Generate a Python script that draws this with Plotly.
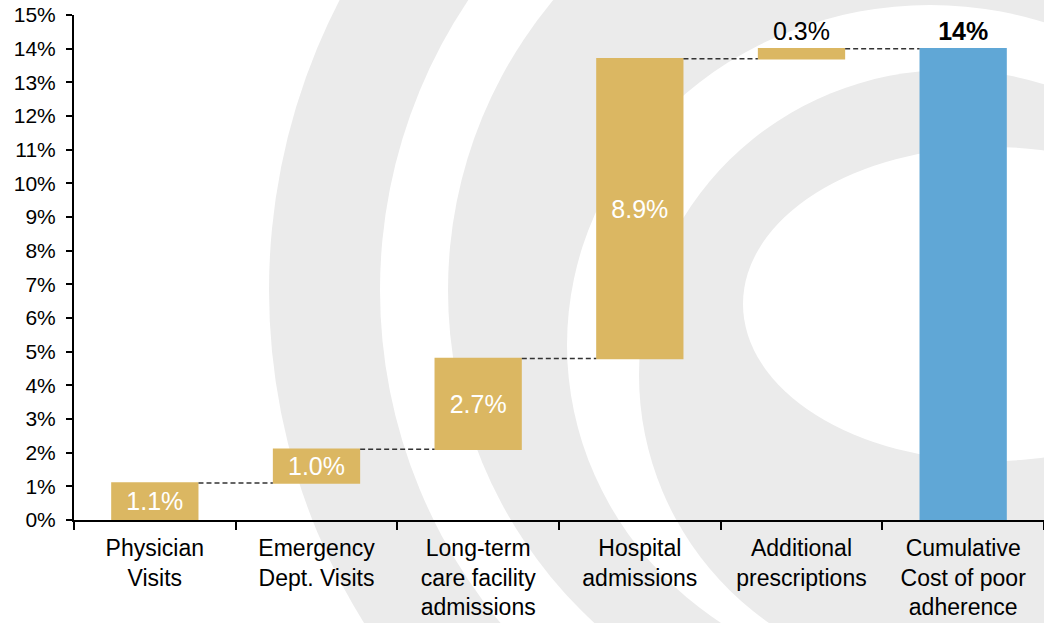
import plotly.graph_objects as go

# ---------------- data ----------------
categories = [
    "Physician<br>Visits",
    "Emergency<br>Dept. Visits",
    "Long-term<br>care facility<br>admissions",
    "Hospital<br>admissions",
    "Additional<br>prescriptions",
    "Cumulative<br>Cost of poor<br>adherence",
]
increments = [1.1, 1.0, 2.7, 8.9, 0.3]
total_value = 14.0
value_labels = ["1.1%", "1.0%", "2.7%", "8.9%", "0.3%", "<b>14%</b>"]
y_ticks = list(range(0, 16))
y_tick_labels = [f"{t}%" for t in y_ticks]

# ---------------- style ----------------
GOLD = "#DBB762"
BLUE = "#60A7D6"
WM_GREY = "#EBEBEB"
FONT = "Arial, Liberation Sans, Arimo, sans-serif"

W_FIG, H_FIG = 1044, 623
L, R, T, B = 74, 0, 15, 103
PW, PH = W_FIG - L - R, H_FIG - T - B


def px_to_paper_x(x):
    return (x - L) / PW


def px_to_paper_y(y):
    return (H_FIG - B - y) / PH


def ellipse(cx, cy, a, b, color):
    return dict(type="circle", xref="paper", yref="paper", layer="below",
                x0=px_to_paper_x(cx - a), x1=px_to_paper_x(cx + a),
                y0=px_to_paper_y(cy + b), y1=px_to_paper_y(cy - b),
                fillcolor=color, line=dict(width=0))


# decorative watermark (concentric arcs), painted back to front
shapes = [
    ellipse(900, 290, 631, 631, WM_GREY),
    ellipse(900, 290, 520, 520, "white"),
    ellipse(900, 290, 452, 452, WM_GREY),
    ellipse(930, 345, 363, 340, "white"),
    ellipse(950, 375, 311, 305, WM_GREY),
    ellipse(992, 304, 249, 157, "white"),
]

measures = ["relative"] * len(increments) + ["total"]
values = increments + [total_value]
positions = ["inside"] * 4 + ["outside", "outside"]

fig = go.Figure(go.Waterfall(
    x=categories,
    y=values,
    measure=measures,
    text=value_labels,
    textposition=positions,
    insidetextanchor="middle",
    constraintext="none",
    insidetextfont=dict(color="white", size=25, family=FONT),
    outsidetextfont=dict(color="black", size=25, family=FONT),
    increasing=dict(marker=dict(color=GOLD, line=dict(width=0))),
    decreasing=dict(marker=dict(color=GOLD, line=dict(width=0))),
    totals=dict(marker=dict(color=BLUE, line=dict(width=0))),
    connector=dict(mode="between", line=dict(color="#333333", width=1.5, dash="5px,3px")),
    cliponaxis=False,
    hoverinfo="skip",
))

fig.update_layout(
    template="none",
    width=W_FIG, height=H_FIG,
    margin=dict(l=L, r=R, t=T, b=B, pad=0),
    paper_bgcolor="white",
    plot_bgcolor="rgba(0,0,0,0)",
    font=dict(family=FONT, color="black", size=20),
    showlegend=False,
    waterfallgap=0.46,
    shapes=shapes,
    xaxis=dict(
        showline=True, linecolor="black", linewidth=2,
        ticks="outside", tickson="boundaries", ticklen=8, tickwidth=2, tickcolor="black",
        tickfont=dict(size=23, color="black", family=FONT),
        ticklabelstandoff=6,
        showgrid=False, zeroline=False, automargin=False,
    ),
    yaxis=dict(
        range=[0, 15], tickvals=y_ticks, ticktext=y_tick_labels,
        showline=True, linecolor="black", linewidth=2,
        ticks="outside", ticklen=6, tickwidth=2, tickcolor="black",
        tickfont=dict(size=21, color="black", family=FONT),
        ticklabelstandoff=6,
        showgrid=False, zeroline=False, automargin=False,
    ),
)

fig.write_html(
    "out.html",
    config={"displayModeBar": False, "staticPlot": True},
    post_script="document.body.style.margin='0';",
)
